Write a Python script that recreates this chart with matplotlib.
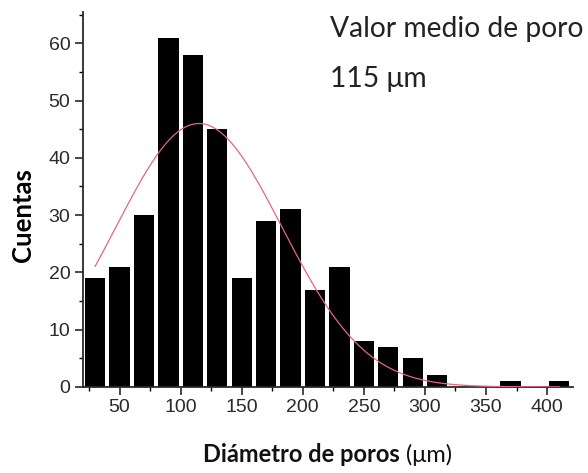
import numpy as np
import matplotlib
matplotlib.use("Agg")
import matplotlib.pyplot as plt
from matplotlib.ticker import MultipleLocator
from matplotlib.offsetbox import TextArea, HPacker, AnnotationBbox

# Histogram of pore diameters (bin centers in um, counts)
bin_centers = [30, 50, 70, 90, 110, 130, 150, 170, 190, 210,
               230, 250, 270, 290, 310, 330, 350, 370, 390, 410]
counts = [19, 21, 30, 61, 58, 45, 19, 29, 31, 17,
          21, 8, 7, 5, 2, 0, 0, 1, 0, 1]
bin_width = 20

# Gaussian fit
fit_center = 115
fit_sigma = 68
fit_peak = 46

plt.rcParams['font.family'] = ['Liberation Sans', 'DejaVu Sans']
label_font = ['Lato', 'DejaVu Sans']

fig = plt.figure(figsize=(5.88, 4.73), dpi=100)
ax = fig.add_axes([0.141, 0.182, 0.833, 0.793])

ax.bar(bin_centers, counts, width=bin_width * 0.83, color='black', edgecolor='none', zorder=2)

x_fit = np.linspace(bin_centers[0], bin_centers[-1], 300)
y_fit = fit_peak * np.exp(-(x_fit - fit_center) ** 2 / (2 * fit_sigma ** 2))
ax.plot(x_fit, y_fit, color='#e3677f', lw=0.9, zorder=3)

ax.set_xlim(20, 421)
ax.set_ylim(0, 65.5)
ax.set_xticks([50, 100, 150, 200, 250, 300, 350, 400])
ax.xaxis.set_minor_locator(MultipleLocator(25))
ax.yaxis.set_major_locator(MultipleLocator(10))
ax.yaxis.set_minor_locator(MultipleLocator(5))
ax.tick_params(axis='both', which='major', direction='out', length=6, width=1.2, labelsize=14,
               colors='#2a2a2a', pad=3)
ax.tick_params(axis='both', which='minor', direction='out', length=3, width=1.0)

for side in ['top', 'right']:
    ax.spines[side].set_visible(False)
for side in ['left', 'bottom']:
    ax.spines[side].set_linewidth(1.3)
    ax.spines[side].set_color('#2a2a2a')

ax.set_ylabel("Cuentas", fontsize=18.5, fontweight='bold', family=label_font, va='center')
ax.yaxis.set_label_coords(-0.122, 0.459)

# x label: bold text with regular unit
part_bold = TextArea("Diámetro de poros ", textprops=dict(fontsize=17, fontweight='bold', family=label_font, color='#111111'))
part_unit = TextArea("(μm)", textprops=dict(fontsize=17, family=label_font, color='#111111'))
xlab = HPacker(children=[part_bold, part_unit], align='baseline', pad=0, sep=0)
ax.add_artist(AnnotationBbox(xlab, (0.5, -0.181), xycoords='axes fraction', frameon=False,
                             box_alignment=(0.5, 0.5), annotation_clip=False))

ax.text(0.504, 0.955, "Valor medio de poro", transform=ax.transAxes, fontsize=20.3,
        family=label_font, va='center', ha='left', color='#222222')
ax.text(0.504, 0.82, "115 μm", transform=ax.transAxes, fontsize=20.3,
        family=label_font, va='center', ha='left', color='#222222')

fig.savefig("out.png", dpi=100)
